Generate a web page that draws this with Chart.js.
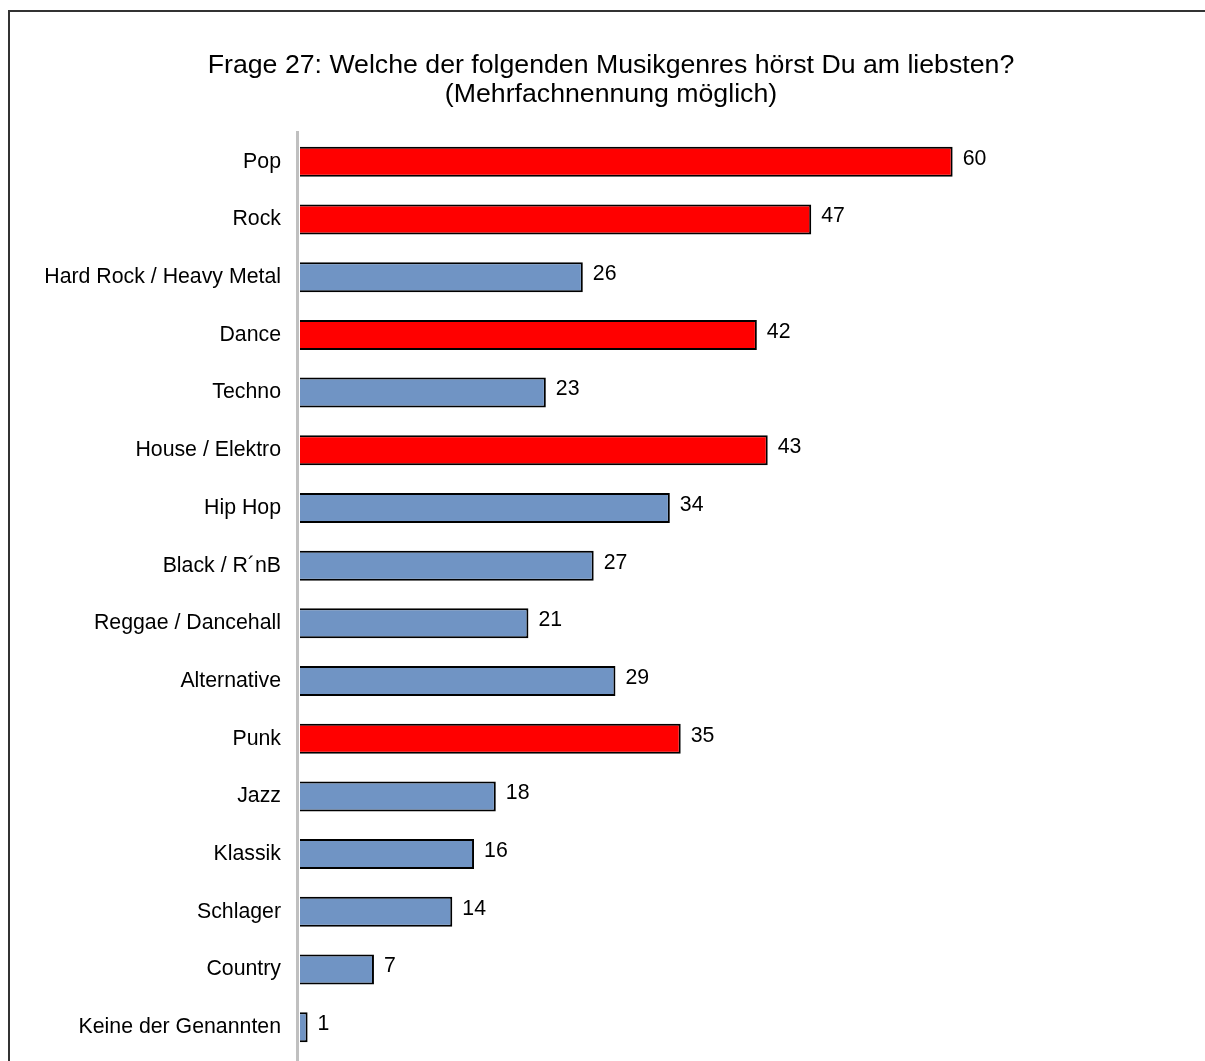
<!DOCTYPE html>
<html>
<head>
<meta charset="utf-8">
<script src="https://cdn.jsdelivr.net/npm/chart.js@4.4.1/dist/chart.umd.min.js"></script>
<style>
    html, body { margin: 0; padding: 0; background: #fff; }
    #genreChart { display: block; }
</style>
</head>
<body>
<canvas id="genreChart" width="1205" height="1061"></canvas>
<script>
// values (percent)
const genres = [
    "Pop", "Rock", "Hard Rock / Heavy Metal", "Dance", "Techno", "House / Elektro",
    "Hip Hop", "Black / R\u00B4nB", "Reggae / Dancehall", "Alternative", "Punk",
    "Jazz", "Klassik", "Schlager", "Country", "Keine der Genannten"
];
const shares = [60, 47, 26, 42, 22.6, 43, 34, 27, 21, 29, 35, 18, 16, 14, 6.8, 0.7];
const highlighted = [true, true, false, true, false, true, false, false, false, false, true, false, false, false, false, false];
const titleLines = [
    "Frage 27: Welche der folgenden Musikgenres h\u00F6rst Du am liebsten?",
    "(Mehrfachnennung m\u00F6glich)"
];

const RED = "#ff0000";
const BLUE = "#7094c4";
const FONT = "'Liberation Sans', Arial, sans-serif";

// frame line top/left + grey category axis line
const framePlugin = {
    id: "frame",
    beforeDraw(chart) {
        const ctx = chart.ctx;
        ctx.save();
        ctx.fillStyle = "#fff";
        ctx.fillRect(0, 0, chart.width, chart.height);
        ctx.strokeStyle = "#333";
        ctx.lineWidth = 2;
        ctx.beginPath();
        ctx.moveTo(9, chart.height);
        ctx.lineTo(9, 11);
        ctx.lineTo(chart.width, 11);
        ctx.stroke();
        ctx.restore();
    },
    afterDatasetsDraw(chart) {
        const ctx = chart.ctx;
        const area = chart.chartArea;
        ctx.save();
        ctx.fillStyle = "#c0c0c0";
        ctx.fillRect(area.left - 4, area.top - 2, 3, chart.height - area.top + 2);
        ctx.restore();
    }
};

const valueLabels = {
    id: "valueLabels",
    afterDatasetsDraw(chart) {
        const ctx = chart.ctx;
        const meta = chart.getDatasetMeta(0);
        ctx.save();
        ctx.font = "21.3px " + FONT;
        ctx.fillStyle = "#000";
        ctx.textAlign = "left";
        ctx.textBaseline = "middle";
        meta.data.forEach((bar, i) => {
            ctx.fillText(String(Math.round(shares[i])), bar.x + 10, bar.y - 3);
        });
        ctx.restore();
    }
};

const config = {
    type: "bar",
    data: {
        labels: genres,
        datasets: [{
            data: shares,
            backgroundColor: highlighted.map(h => h ? RED : BLUE),
            borderColor: "#000",
            borderWidth: 2,
            categoryPercentage: 1,
            barPercentage: 0.52,
        }],
    },
    options: {
        indexAxis: "y",
        responsive: false,
        animation: false,
        events: [],
        layout: {
            padding: { left: 17, right: 0, top: 0, bottom: 5 },
        },
        plugins: {
            legend: { display: false },
            tooltip: { enabled: false },
            title: {
                display: true,
                text: titleLines,
                color: "#000",
                font: { family: FONT, size: 26.7, weight: "normal", lineHeight: 1.086 },
                padding: { top: 51, bottom: 24 },
            },
        },
        scales: {
            x: {
                display: false,
                min: 0,
                max: 83.2,
            },
            y: {
                grid: { display: false, drawTicks: false },
                border: { display: false },
                ticks: {
                    color: "#000",
                    padding: 19,
                    font: { family: FONT, size: 21.3 },
                },
                afterFit(scale) {
                    scale.width = 283;
                    scale.paddingTop = 0;
                    scale.paddingBottom = 0;
                },
            },
        },
    },
    plugins: [framePlugin, valueLabels],
};

new Chart(document.getElementById("genreChart"), config);
</script>
</body>
</html>
